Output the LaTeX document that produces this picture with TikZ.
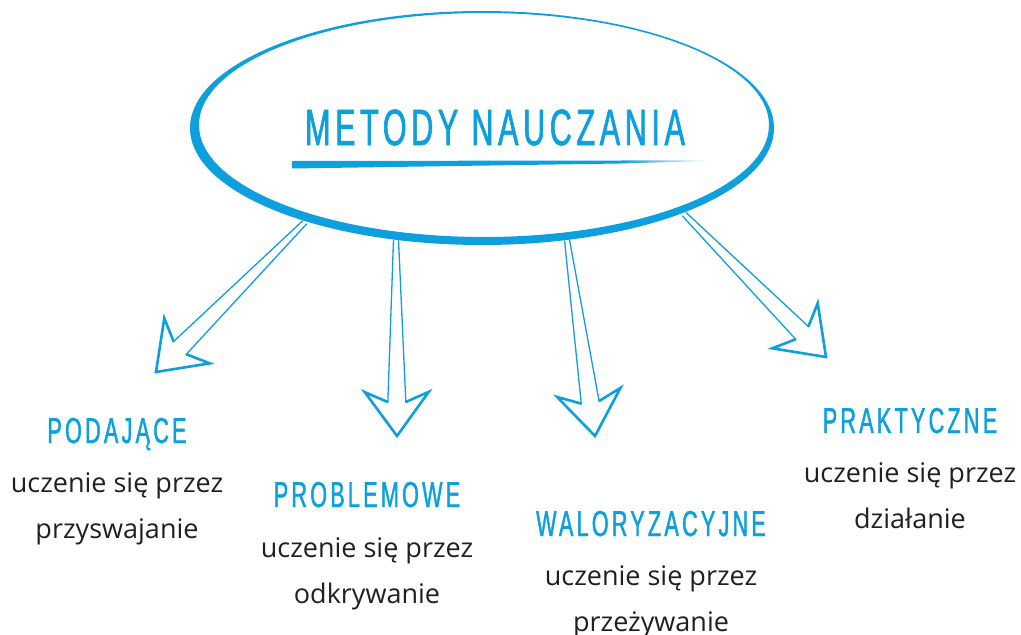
\documentclass[tikz,border=0pt]{standalone}
\usepackage{fontspec}
\usepackage{tikz}
\usetikzlibrary{calc,positioning}
\setmainfont{Open Sans}
\newfontfamily\headfont[FakeStretch=0.6,LetterSpace=9,FakeBold=1.2]{Liberation Sans}
\definecolor{mblue}{RGB}{14,160,220}
\definecolor{mtext}{RGB}{35,31,32}

% hollow arrow from #1 to its tip #2
\newcommand{\hollowarrow}[2]{%
\draw[shaft] ($(#1)!2.5pt!90:(#2)$) -- ($($(#2)!34pt!(#1)$)!9pt!90:(#2)$)
  -- ($($(#2)!44pt!(#1)$)!32pt!90:(#2)$) -- (#2)
  -- ($($(#2)!44pt!(#1)$)!32pt!-90:(#2)$) -- ($($(#2)!34pt!(#1)$)!9pt!-90:(#2)$)
  -- ($(#1)!2.5pt!-90:(#2)$);
\draw[head] ($($(#2)!34pt!(#1)$)!9pt!90:(#2)$)
  -- ($($(#2)!44pt!(#1)$)!32pt!90:(#2)$) -- (#2)
  -- ($($(#2)!44pt!(#1)$)!32pt!-90:(#2)$) -- ($($(#2)!34pt!(#1)$)!9pt!-90:(#2)$);
}

\tikzset{
  title/.style={font=\headfont\fontsize{51}{51}\selectfont, text=mblue, inner sep=0pt, anchor=base},
  heading/.style={font=\headfont\fontsize{36}{36}\selectfont, text=mblue, inner sep=0pt, anchor=base},
  body/.style={font=\fontsize{27}{46}\selectfont, text=mtext, align=center, inner sep=0pt, anchor=base},
  shaft/.style={draw=mblue, line width=1.3pt, line join=miter},
  head/.style={draw=mblue, line width=2.6pt, line join=miter},
}

\begin{document}
\begin{tikzpicture}[x=1pt,y=-1pt]
\useasboundingbox (0,0) rectangle (1021,635);

% start and tip points
\coordinate (podajaceStart) at (305,222);   \coordinate (podajaceTip) at (156,372);
\coordinate (problemoweStart) at (396,240); \coordinate (problemoweTip) at (397,436);
\coordinate (walorStart) at (567,240);      \coordinate (walorTip) at (595,436);
\coordinate (praktyczneStart) at (684,214); \coordinate (praktyczneTip) at (826,357);

\hollowarrow{podajaceStart}{podajaceTip}
\hollowarrow{problemoweStart}{problemoweTip}
\hollowarrow{walorStart}{walorTip}
\hollowarrow{praktyczneStart}{praktyczneTip}

% brush ellipse
\fill[white] (482,128) ellipse [x radius=292, y radius=117];
\fill[mblue, even odd rule] (482,128) ellipse [x radius=292, y radius=117]
  (484,125) ellipse [x radius=285, y radius=112];

\node[title] (metody) at (495,145) {METODY NAUCZANIA};
\fill[mblue] (292,161) -- (620,160.5) -- (620,163.5) -- (292,168.5) -- cycle;
\shade[left color=mblue, right color=white] (620,160.5) -- (712,160.3) -- (712,160.9) -- (620,163.5) -- cycle;

% the four groups (body anchored at its last line)
\node[heading] (podajace) at (117,443) {PODAJĄCE};
\node[body] (podajaceTxt) at (117,538) {uczenie się przez\\przyswajanie};

\node[heading] (problemowe) at (367,507) {PROBLEMOWE};
\node[body] (problemoweTxt) at (367,603) {uczenie się przez\\odkrywanie};

\node[heading] (walor) at (651,536) {WALORYZACYJNE};
\node[body] (walorTxt) at (651,631) {uczenie się przez\\przeżywanie};

\node[heading] (praktyczne) at (910,433) {PRAKTYCZNE};
\node[body] (praktyczneTxt) at (910,528) {uczenie się przez\\działanie};

\end{tikzpicture}
\end{document}
